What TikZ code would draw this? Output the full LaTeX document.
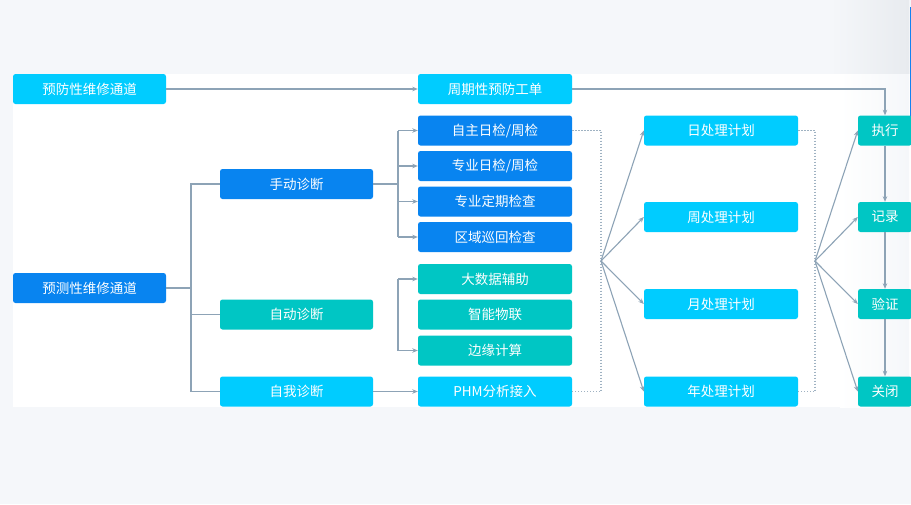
\documentclass[tikz,border=0pt]{standalone}
\usepackage{fontspec}
\newfontfamily\cjk{Noto Sans CJK SC}
\usetikzlibrary{arrows.meta}
\definecolor{bgc}{HTML}{F5F7FA}
\definecolor{cyanc}{RGB}{0,204,255}
\definecolor{bluec}{RGB}{8,132,240}
\definecolor{tealc}{RGB}{0,198,196}
\definecolor{linec}{HTML}{8DA3B6}
\definecolor{dotc}{HTML}{9FB2C2}
\definecolor{edgeblue}{RGB}{20,130,240}
\definecolor{shadec}{HTML}{E8EBEF}
\tikzset{
  bx/.style={rounded corners=2.5pt, text=white, font=\cjk\fontsize{13.5}{16}\selectfont,
    minimum width=154pt, minimum height=30pt, inner sep=0pt, draw=none},
  smallbx/.style={bx, minimum width=54pt},
  conn/.style={draw=linec, line width=1.1pt},
  arr/.style={conn, -{Stealth[length=5.5pt,width=4.5pt]}},
  dotl/.style={draw=dotc, line width=1.1pt, dash pattern=on 1.3pt off 1.7pt}
}
\begin{document}
\begin{tikzpicture}[x=1pt,y=-1pt]
\useasboundingbox (0,0) rectangle (911,504);
\fill[bgc] (0,0) rectangle (911,504);
\shade[left color=bgc, right color=shadec] (830,0) rectangle (909,74);
\fill[white] (13,74) rectangle (911,407);
\shade[left color=white, right color=bgc] (840,74) rectangle (909,407);
\fill[edgeblue] (909.5,7) rectangle (911,116);

% column 1
\node[bx, fill=cyanc, minimum width=153pt] (pf) at (89.5,89) {预防性维修通道};
\node[bx, fill=bluec, minimum width=153pt] (pd) at (89.5,288) {预测性维修通道};
% column 2
\node[bx, fill=bluec, minimum width=153pt] (sd) at (296.5,184) {手动诊断};
\node[bx, fill=tealc, minimum width=153pt] (zd) at (296.5,314.5) {自动诊断};
\node[bx, fill=cyanc, minimum width=153pt] (zw) at (296.5,391.5) {自我诊断};
% column 3
\node[bx, fill=cyanc] (zq) at (495,89) {周期性预防工单};
\node[bx, fill=bluec] (a1) at (495,130.5) {自主日检/周检};
\node[bx, fill=bluec] (a2) at (495,166) {专业日检/周检};
\node[bx, fill=bluec] (a3) at (495,201.5) {专业定期检查};
\node[bx, fill=bluec] (a4) at (495,237) {区域巡回检查};
\node[bx, fill=tealc] (b1) at (495,279) {大数据辅助};
\node[bx, fill=tealc] (b2) at (495,314.5) {智能物联};
\node[bx, fill=tealc] (b3) at (495,350.5) {边缘计算};
\node[bx, fill=cyanc] (phm) at (495,391.5) {PHM分析接入};
% column 4
\node[bx, fill=cyanc] (p1) at (721,130.5) {日处理计划};
\node[bx, fill=cyanc] (p2) at (721,217) {周处理计划};
\node[bx, fill=cyanc] (p3) at (721,304) {月处理计划};
\node[bx, fill=cyanc] (p4) at (721,391.5) {年处理计划};
% column 5
\node[smallbx, fill=tealc] (e1) at (885,130.5) {执行};
\node[smallbx, fill=tealc] (e2) at (885,217) {记录};
\node[smallbx, fill=tealc] (e3) at (885,304) {验证};
\node[smallbx, fill=tealc] (e4) at (885,391.5) {关闭};

% helper coordinates
\coordinate (t) at (191,0);
\coordinate (m) at (398,0);
\coordinate (d1) at (601,0);
\coordinate (d2) at (815,0);
\coordinate (f1) at (601,261);
\coordinate (f2) at (815,261);

% preventive path
\draw[arr] (pf.east) -- (zq.west);
\draw[arr] (zq.east) -| (e1.north);

% predictive tree
\draw[conn] (pd.east) -- (pd.east -| t);
\draw[conn] (sd.west) -- (sd.west -| t) -- (zw.west -| t) -- (zw.west);
\draw[conn] (zd.west) -- (zd.west -| t);

% manual branch
\draw[conn] (sd.east) -- (sd.east -| m);
\draw[conn] (a1.west -| m) -- (a4.west -| m);
\foreach \n in {a1,a2,a3,a4} \draw[arr] (\n.west -| m) -- (\n.west);

% automatic branch
\draw[conn] (b1.west -| m) -- (b3.west -| m);
\draw[arr] (b1.west -| m) -- (b1.west);
\draw[arr] (b3.west -| m) -- (b3.west);

% self diagnosis
\draw[arr] (zw.east) -- (phm.west);

% dotted collectors
\draw[dotl] (a1.east) -- (a1.east -| d1) -- (phm.east -| d1) -- (phm.east);
\draw[dotl] (p1.east) -- (p1.east -| d2) -- (p4.east -| d2) -- (p4.east);

% fans
\foreach \n in {p1,p2,p3,p4} \draw[arr] (f1) -- (\n.west);
\foreach \n in {e1,e2,e3,e4} \draw[arr] (f2) -- (\n.west);

% execution chain
\draw[arr] (e1.south) -- (e2.north);
\draw[arr] (e2.south) -- (e3.north);
\draw[arr] (e3.south) -- (e4.north);
\end{tikzpicture}
\end{document}
